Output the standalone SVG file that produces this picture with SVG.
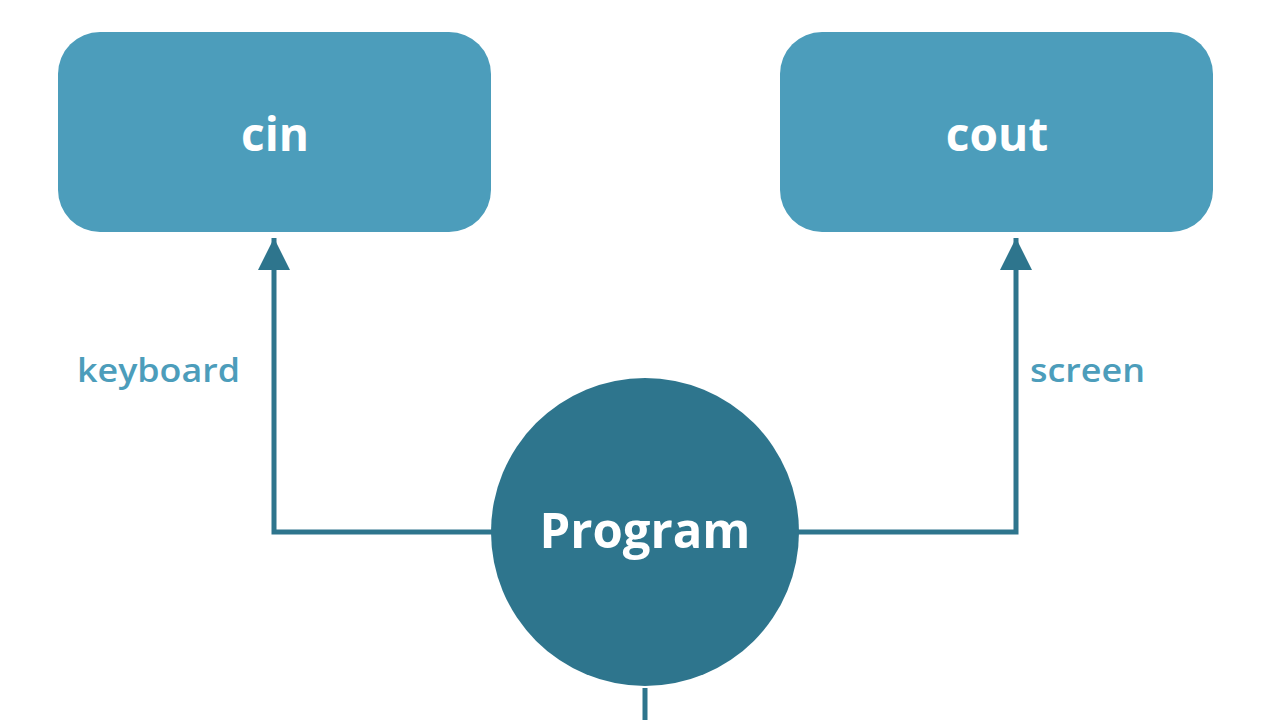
<svg xmlns="http://www.w3.org/2000/svg" width="1280" height="720" viewBox="0 0 1280 720">
<defs>
<style>
.box{fill:#4c9dbb}
.circ{fill:#2e758d}
.conn{stroke:#2e758d;stroke-width:5;fill:none}
.title{font-family:"Open Sans","Liberation Sans",sans-serif;font-weight:700;fill:#fff;text-anchor:middle}
.lbl{font-family:"Open Sans","Liberation Sans",sans-serif;font-weight:600;fill:#4c9dbb;font-size:32px}
</style>
<marker id="arr" viewBox="0 0 10 10" refX="10" refY="5" markerWidth="32" markerHeight="32" markerUnits="userSpaceOnUse" orient="auto">
<path d="M0,0 L10,5 L0,10 Z" fill="#2e758d"/>
</marker>
</defs>
<rect width="1280" height="720" fill="#fff"/>
<g id="connectors">
<path class="conn" d="M492,532 H274 V238" marker-end="url(#arr)"/>
<path class="conn" d="M798,532 H1016 V238" marker-end="url(#arr)"/>
<path class="conn" d="M645,688 V720"/>
</g>
<g id="node-cin">
<rect class="box" x="58" y="32" width="433" height="200" rx="42"/>
<text class="title" x="275" y="151" font-size="46">cin</text>
</g>
<g id="node-cout">
<rect class="box" x="780" y="32" width="433" height="200" rx="42"/>
<text class="title" x="997" y="151" font-size="46">cout</text>
</g>
<g id="node-program">
<circle class="circ" cx="645" cy="532" r="154"/>
<text class="title" x="645" y="548" font-size="49">Program</text>
</g>
<g id="labels">
<text class="lbl" x="77" y="382" textLength="163" lengthAdjust="spacingAndGlyphs">keyboard</text>
<text class="lbl" x="1030" y="382" textLength="115" lengthAdjust="spacingAndGlyphs">screen</text>
</g>
</svg>
